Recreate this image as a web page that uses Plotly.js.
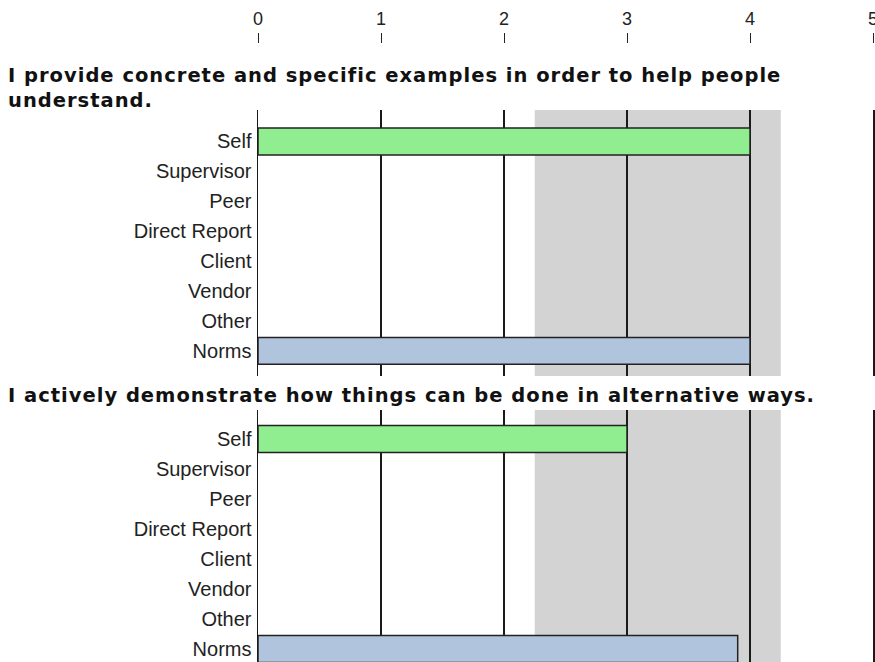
<!DOCTYPE html>
<html>
<head>
<meta charset="utf-8">
<script src="https://cdn.plot.ly/plotly-3.0.1.min.js"></script>
<style>
  html, body { margin: 0; padding: 0; background: #fff; }
  #chart { width: 875px; height: 662px; }
  /* the source chart sets its question text loosely spaced */
  #chart .annotation-text { letter-spacing: 1px; }
</style>
</head>
<body>
<div id="chart"></div>
<script>
// ── Data ───────────────────────────────────────────────────────────────────────

const categories = ["Self", "Supervisor", "Peer", "Direct Report", "Client", "Vendor", "Other", "Norms"];
const scoresQ1 = [4, null, null, null, null, null, null, 4];
const scoresQ2 = [3, null, null, null, null, null, null, 3.9];
const questions = [
  "I provide concrete and specific examples in order to help people<br>understand.",
  "I actively demonstrate how things can be done in alternative ways.",
];
const scaleTicks = [0, 1, 2, 3, 4, 5];
const normBand = [2.25, 4.25];

// ── Styling ────────────────────────────────────────────────────────────────────

const W = 875, H = 662;
const px = v => v / W;
const py = v => 1 - v / H;

const barColors = categories.map(c => c === "Self" ? "#90ee90" : c === "Norms" ? "#b0c4de" : "#cccccc");
const labelFont = { family: "Liberation Sans, Arial, sans-serif", size: 20, color: "#222" };
const titleFont = { family: "DejaVu Sans, Verdana, sans-serif", size: 19.5, color: "#111" };
const xDomain = [px(258), px(873)];

function barTrace(values, xa, ya) {
  return {
    type: "bar",
    orientation: "h",
    y: categories,
    x: values,
    xaxis: xa,
    yaxis: ya,
    marker: { color: barColors, line: { color: "#222", width: 1.5 } },
    hoverinfo: "skip",
  };
}

function panelX(ya) {
  return {
    domain: xDomain, range: [0, 5], anchor: ya,
    showgrid: true, gridcolor: "#1a1a1a", gridwidth: 1.3,
    tick0: 0, dtick: 1, ticks: "", showticklabels: false,
    zeroline: false, showline: false, fixedrange: true,
  };
}

function panelY(domain, range) {
  return {
    domain, type: "category", categoryorder: "array", categoryarray: categories,
    range, showgrid: false, zeroline: false,
    showline: true, mirror: true, linecolor: "#1a1a1a", linewidth: 1.5,
    ticks: "", tickfont: labelFont, ticklabelstandoff: 1, fixedrange: true,
  };
}

function bandShape(xa, ya) {
  return {
    type: "rect", layer: "below", xref: xa, yref: ya + " domain",
    x0: normBand[0], x1: normBand[1], y0: 0, y1: 1,
    fillcolor: "#d3d3d3", line: { width: 0 },
  };
}

// ── Chart ──────────────────────────────────────────────────────────────────────

const data = [
  barTrace(scoresQ1, "x", "y"),
  barTrace(scoresQ2, "x2", "y2"),
  // carries the shared scale axis at the top
  {
    type: "scatter", mode: "markers", x: scaleTicks, y: scaleTicks.map(() => "Self"),
    xaxis: "x3", yaxis: "y", marker: { opacity: 0 }, hoverinfo: "skip",
  },
];

const layout = {
  width: W,
  height: H,
  margin: { l: 0, r: 0, t: 0, b: 0 },
  paper_bgcolor: "#fff",
  plot_bgcolor: "rgba(0,0,0,0)",
  showlegend: false,
  bargap: 0.1,
  xaxis: panelX("y"),
  xaxis2: panelX("y2"),
  xaxis3: {
    domain: xDomain, range: [0, 5], overlaying: "x", anchor: "free", position: py(43),
    side: "top", tickvals: scaleTicks, ticks: "outside", ticklen: 10, tickcolor: "#222", tickwidth: 1,
    ticklabeloverflow: "allow", ticklabelstandoff: 1,
    showgrid: false, zeroline: false, showline: false,
    tickfont: { family: "Liberation Sans Narrow, Liberation Sans, Arial, sans-serif", size: 18, color: "#222" },
    fixedrange: true,
  },
  yaxis: panelY([py(376), py(110)], [7.84, -1.05]),
  yaxis2: panelY([0, py(410)], [7.43, -0.97]),
  shapes: [bandShape("x", "y"), bandShape("x2", "y2")],
  annotations: [
    {
      text: "<b>" + questions[0] + "</b>", xref: "paper", yref: "paper",
      x: px(6), y: py(62), xanchor: "left", yanchor: "top", align: "left",
      showarrow: false, font: titleFont,
    },
    {
      text: "<b>" + questions[1] + "</b>", xref: "paper", yref: "paper",
      x: px(6), y: py(382), xanchor: "left", yanchor: "top", align: "left",
      showarrow: false, font: titleFont,
    },
  ],
};

Plotly.newPlot("chart", data, layout, { displayModeBar: false, staticPlot: true });
</script>
</body>
</html>
